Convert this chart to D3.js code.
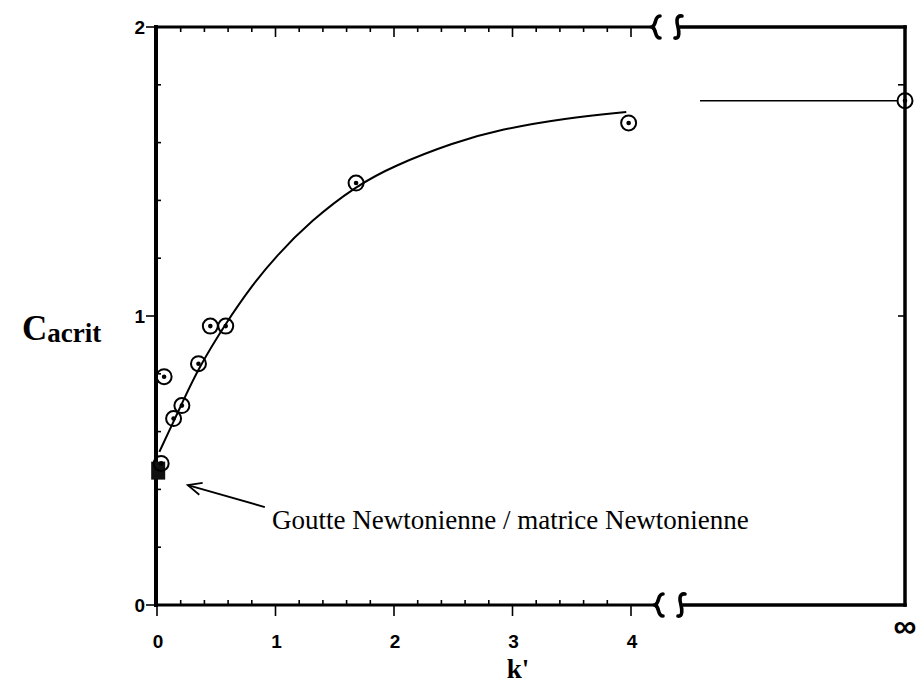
<!DOCTYPE html>
<html>
<head>
<meta charset="utf-8">
<script src="https://cdn.jsdelivr.net/npm/d3@7"></script>
<style>
  html, body { margin: 0; padding: 0; background: #fff; }
  svg { display: block; }
</style>
</head>
<body>
<svg id="chart" width="916" height="686"></svg>
<script>
// Measured points: k' versus critical capillary number
const kValues = [0.06, 0.14, 0.21, 0.35, 0.45, 0.58, 1.68, 3.98];
const cValues = [0.79, 0.645, 0.69, 0.835, 0.965, 0.965, 1.46, 1.668];

// Newtonian drop / Newtonian matrix reference at k' = 0
const newtonK = [0.01];
const newtonC = [0.465];
const newtonRingK = [0.035];
const newtonRingC = [0.49];

// Value for k' -> infinity
const cInfinity = 1.745;

// Trend curve through the data
const kCurve = [0.02, 0.14, 0.21, 0.35, 0.58, 0.8, 1.0, 1.3, 1.68, 2.0, 2.5, 2.89, 3.45, 3.96];
const cCurve = [0.53, 0.635, 0.697, 0.82, 0.975, 1.105, 1.205, 1.33, 1.45, 1.52, 1.6, 1.645, 1.685, 1.706];

// Axis ticks
const xTickValues = [0, 1, 2, 3, 4];
const xTickLabels = ["0", "1", "2", "3", "4"];
const yTickValues = [0, 1, 2];
const yTickLabels = ["0", "1", "2"];
const infinityLabel = "\u221E";

const annotationText = "Goutte Newtonienne / matrice Newtonienne";
const xTitle = "k'";
const yTitleMain = "C";
const yTitleSub = "acrit";

const svg = d3.select("#chart");

// Frame geometry
const fLeft = 156, fRight = 905, fTop = 27, fBottom = 605;
const breakTop = [656, 678];
const breakBottom = [659, 681];

const x = d3.scaleLinear().domain([0, 4]).range([157, 631]);
const y = d3.scaleLinear().domain([0, 2]).range([fBottom, fTop]);
const xInf = fRight;

const frame = svg.append("g").attr("stroke", "#000").attr("fill", "none").attr("stroke-linecap", "square");

// Left and right axes
frame.append("line").attr("x1", fLeft).attr("x2", fLeft).attr("y1", fTop).attr("y2", fBottom).attr("stroke-width", 4);
frame.append("line").attr("x1", fRight).attr("x2", fRight).attr("y1", fTop).attr("y2", fBottom).attr("stroke-width", 3.5);
// Top axis, broken
frame.append("line").attr("x1", fLeft).attr("x2", breakTop[0] - 3).attr("y1", fTop).attr("y2", fTop).attr("stroke-width", 3);
frame.append("line").attr("x1", breakTop[1] + 3).attr("x2", fRight).attr("y1", fTop).attr("y2", fTop).attr("stroke-width", 3.5);
// Bottom axis, broken
frame.append("line").attr("x1", fLeft).attr("x2", breakBottom[0] - 3).attr("y1", fBottom).attr("y2", fBottom).attr("stroke-width", 3);
frame.append("line").attr("x1", breakBottom[1] + 3).attr("x2", fRight).attr("y1", fBottom).attr("y2", fBottom).attr("stroke-width", 3.5);

// Break marks: a brace followed by an integral-like stroke
function braceMark(cx, cy) {
  const p = d3.path();
  p.moveTo(cx + 4, cy - 11);
  p.bezierCurveTo(cx - 2, cy - 11, cx + 1, cy - 2, cx - 4, cy);
  p.bezierCurveTo(cx + 1, cy + 2, cx - 2, cy + 11, cx + 4, cy + 11);
  return p.toString();
}
function hookMark(cx, cy) {
  const p = d3.path();
  p.moveTo(cx + 4, cy - 11);
  p.bezierCurveTo(cx - 3, cy - 12, cx - 1, cy - 3, cx, cy);
  p.bezierCurveTo(cx + 1, cy + 4, cx + 2, cy + 12, cx - 3, cy + 11);
  return p.toString();
}
[[breakTop[0], fTop, braceMark], [breakTop[1], fTop, hookMark],
 [breakBottom[0], fBottom, braceMark], [breakBottom[1], fBottom, hookMark]].forEach(([bx, by, f]) => {
  frame.append("path").attr("d", f(bx, by)).attr("stroke-width", 3.6).attr("stroke-linecap", "round");
});

// Ticks
const ticks = svg.append("g").attr("stroke", "#000").attr("stroke-width", 1.6);
const minorX = d3.range(0.2, 4.01, 0.2).filter(v => Math.abs(v - Math.round(v)) > 1e-6);
const minorY = d3.range(0.2, 2.0, 0.2).filter(v => Math.abs(v - Math.round(v)) > 1e-6);

xTickValues.forEach(v => {
  ticks.append("line").attr("x1", x(v)).attr("x2", x(v)).attr("y1", fBottom).attr("y2", fBottom + 11);
  if (v > 0) ticks.append("line").attr("x1", x(v)).attr("x2", x(v)).attr("y1", fTop).attr("y2", fTop + 10);
});
minorX.forEach(v => {
  ticks.append("line").attr("x1", x(v)).attr("x2", x(v)).attr("y1", fBottom).attr("y2", fBottom - 5);
  ticks.append("line").attr("x1", x(v)).attr("x2", x(v)).attr("y1", fTop).attr("y2", fTop + 5);
});
yTickValues.forEach(v => {
  ticks.append("line").attr("x1", fLeft).attr("x2", fLeft - 10).attr("y1", y(v)).attr("y2", y(v));
});
minorY.forEach(v => {
  ticks.append("line").attr("x1", fLeft).attr("x2", fLeft + 5).attr("y1", y(v)).attr("y2", y(v));
});
[1, 1.8].forEach(v => {
  ticks.append("line").attr("x1", fRight).attr("x2", fRight - 7).attr("y1", y(v)).attr("y2", y(v));
});

// Tick labels
const lab = svg.append("g").attr("font-family", "'Liberation Sans', Arial, sans-serif")
  .attr("font-weight", "bold").attr("font-size", 19).attr("fill", "#000");
xTickValues.forEach((v, i) => {
  lab.append("text").attr("x", x(v) + 1).attr("y", 648).attr("text-anchor", "middle").text(xTickLabels[i]);
});
lab.append("text").attr("x", xInf).attr("y", 637).attr("text-anchor", "middle")
  .attr("font-size", 32).text(infinityLabel);
yTickValues.forEach((v, i) => {
  lab.append("text").attr("x", 145).attr("y", y(v) + 7).attr("text-anchor", "end").text(yTickLabels[i]);
});

// Axis titles
svg.append("text").attr("x", 518).attr("y", 678)
  .attr("font-family", "'Liberation Serif', 'Times New Roman', serif").attr("font-weight", "bold")
  .attr("font-size", 27).attr("text-anchor", "middle").text(xTitle);
const yt = svg.append("text").attr("x", 22).attr("y", 340)
  .attr("font-family", "'Liberation Serif', 'Times New Roman', serif").attr("font-weight", "bold");
yt.append("tspan").attr("font-size", 35).text(yTitleMain);
yt.append("tspan").attr("font-size", 27).attr("dy", 2).text(yTitleSub);

// Trend curve
const curveData = kCurve.map((k, i) => [k, cCurve[i]]);
svg.append("path").datum(curveData)
  .attr("d", d3.line().x(d => x(d[0])).y(d => y(d[1])).curve(d3.curveBasis))
  .attr("fill", "none").attr("stroke", "#000").attr("stroke-width", 2);

// Asymptote toward k' -> infinity
svg.append("line").attr("x1", 700).attr("x2", xInf - 8)
  .attr("y1", y(cInfinity)).attr("y2", y(cInfinity))
  .attr("stroke", "#000").attr("stroke-width", 1.6);

// Newtonian reference marker
newtonK.forEach((k, i) => {
  svg.append("rect").attr("x", x(k) - 7).attr("y", y(newtonC[i]) - 9).attr("width", 14).attr("height", 18)
    .attr("fill", "#111");
});

// Circled-dot markers
function marker(px, py) {
  const g = svg.append("g");
  g.append("circle").attr("cx", px).attr("cy", py).attr("r", 7.5)
    .attr("fill", "none").attr("stroke", "#000").attr("stroke-width", 2);
  g.append("circle").attr("cx", px).attr("cy", py).attr("r", 2.3).attr("fill", "#000");
}
newtonRingK.forEach((k, i) => marker(x(k), y(newtonRingC[i])));
kValues.forEach((k, i) => marker(x(k), y(cValues[i])));
marker(xInf, y(cInfinity));

// Annotation arrow and text
const tip = [x(0.26), y(0.415)];
const tail = [x(0.91), y(0.339)];
const ang = Math.atan2(tail[1] - tip[1], tail[0] - tip[0]);
const ah = 15, spread = 0.42;
const ann = svg.append("g").attr("stroke", "#000").attr("stroke-width", 1.8).attr("fill", "none");
ann.append("line").attr("x1", tip[0]).attr("y1", tip[1]).attr("x2", tail[0]).attr("y2", tail[1]);
ann.append("path").attr("d", d3.line()([
  [tip[0] + ah * Math.cos(ang - spread), tip[1] + ah * Math.sin(ang - spread)],
  tip,
  [tip[0] + ah * Math.cos(ang + spread), tip[1] + ah * Math.sin(ang + spread)]
]));
svg.append("text").attr("x", 272).attr("y", 529)
  .attr("font-family", "'Liberation Serif', 'Times New Roman', serif")
  .attr("font-size", 27).attr("fill", "#000").text(annotationText);
</script>
</body>
</html>
